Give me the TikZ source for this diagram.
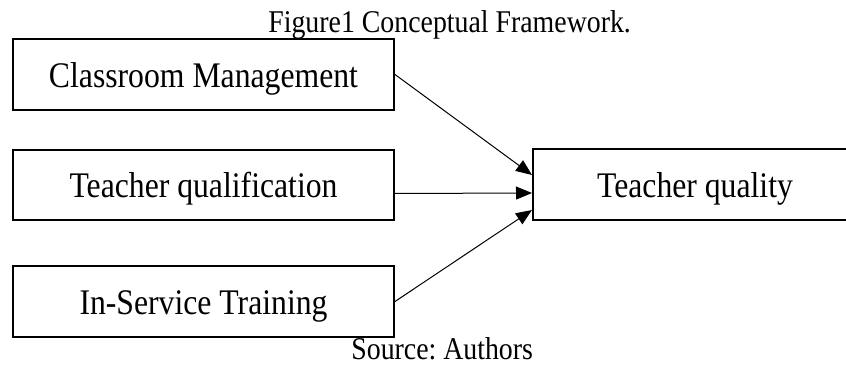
\documentclass[tikz,border=0pt]{standalone}
\usepackage{fontspec}
\setmainfont[FakeStretch=0.88]{Liberation Serif}
\usetikzlibrary{arrows.meta}
\frenchspacing

\begin{document}
\begin{tikzpicture}[
	factor/.style = {draw, line width = 0.4mm, minimum width = 7.62cm, minimum height = 1.42cm, inner sep = 0pt, text height = 0.6cm, text depth = 0.08cm, font = \fontsize{20.5}{22}\selectfont},
	link/.style = {line width = 0.2mm, -{Triangle[length = 0.32cm, width = 0.26cm]}},
	caption/.style = {anchor = base west, inner sep = 0pt, font = \fontsize{18}{20}\selectfont}
	]
		
		\useasboundingbox (0,0) rectangle (16.92,-7.34);
		
		% Title
		\node[caption] (title) at (5.36,-0.66) {Figure1 Conceptual Framework.};
		
		% Three factors on the left
		\node[factor] (manage) at (4.07,-1.49) {Classroom Management};
		\node[factor, minimum height = 1.40cm] (qualif) at (4.07,-3.70) {Teacher qualification};
		\node[factor] (training) at (4.07,-6.03) {In-Service Training};
		
		% Outcome on the right (runs past the page edge)
		\node[factor, minimum width = 6.48cm] (quality) at (13.90,-3.69) {Teacher quality};
		
		% Arrows into the outcome
		\draw[link] (manage.east) -- ([yshift=0.19cm]quality.west);
		\draw[link] ([yshift=-0.17cm]qualif.east) -- ([yshift=-0.17cm]quality.west);
		\draw[link] (training.east) -- ([yshift=-0.51cm]quality.west);
		
		% Source line
		\node[caption] (source) at (7.02,-7.19) {Source: Authors};
		
\end{tikzpicture}
\end{document}
